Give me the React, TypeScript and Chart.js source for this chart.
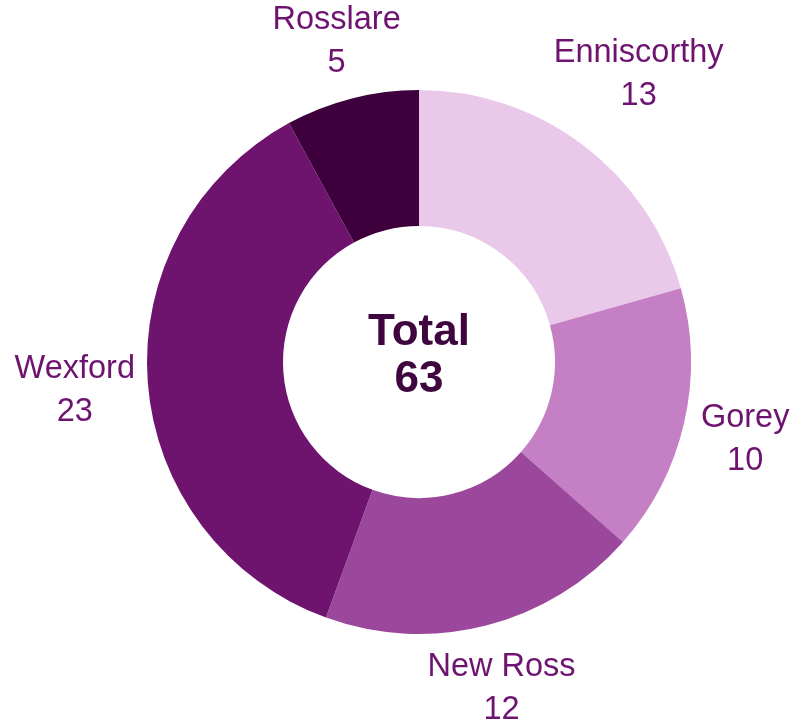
import React, { useEffect, useRef } from "react";
import { Chart, registerables } from "chart.js";

Chart.register(...registerables);

const categories = ["Enniscorthy", "Gorey", "New Ross", "Wexford", "Rosslare"];
const values = [13, 10, 12, 23, 5];
const colors = ["#EAC8EA", "#C47FC5", "#9B479B", "#6E146F", "#3D003D"];
const centerTitle = "Total";

const FONT = "'Liberation Sans', Arial, sans-serif";

function boxDist(cx: number, cy: number, hw: number, hh: number) {
  const nx = Math.max(Math.abs(cx) - hw, 0);
  const ny = Math.max(Math.abs(cy) - hh, 0);
  return Math.sqrt(nx * nx + ny * ny);
}

const labelPlugin = {
  id: "outerLabels",
  afterDraw(chart: any) {
    const ctx = chart.ctx;
    const meta = chart.getDatasetMeta(0);
    ctx.save();
    ctx.fillStyle = "#6E1470";
    ctx.font = "32.5px " + FONT;
    ctx.textAlign = "center";
    ctx.textBaseline = "middle";
    const lineGap = 43;
    const boxH = 80;
    meta.data.forEach((arc: any, i: number) => {
      const mid = (arc.startAngle + arc.endAngle) / 2;
      const dx = Math.cos(mid);
      const dy = Math.sin(mid);
      const w = Math.max(
        ctx.measureText(categories[i]).width,
        ctx.measureText(String(values[i])).width
      );
      const target = arc.outerRadius + 12;
      let lo = 0;
      let hi = arc.outerRadius * 3;
      for (let k = 0; k < 50; k++) {
        const m = (lo + hi) / 2;
        if (boxDist(dx * m, dy * m, w / 2, boxH / 2) < target) lo = m;
        else hi = m;
      }
      const x = arc.x + dx * lo;
      const y = arc.y + dy * lo + 3;
      ctx.fillText(categories[i], x, y - lineGap / 2);
      ctx.fillText(String(values[i]), x, y + lineGap / 2);
    });
    const arc0 = meta.data[0];
    const total = values.reduce((a, b) => a + b, 0);
    ctx.fillStyle = "#3F053F";
    ctx.font = "bold 44px " + FONT;
    ctx.fillText(centerTitle, arc0.x, arc0.y - 29);
    ctx.fillText(String(total), arc0.x, arc0.y + 18);
    ctx.restore();
  },
};

export default function App() {
  const ref = useRef<HTMLCanvasElement | null>(null);
  useEffect(() => {
    document.body.style.margin = "0";
    const chart = new Chart(ref.current as HTMLCanvasElement, {
      type: "doughnut",
      data: {
        labels: categories,
        datasets: [
          {
            data: values,
            backgroundColor: colors,
            borderWidth: 0,
          },
        ],
      },
      options: {
        animation: false,
        responsive: false,
        cutout: "50%",
        layout: { padding: { top: 90, bottom: 86, left: 147, right: 104 } },
        plugins: {
          legend: { display: false },
          tooltip: { enabled: false },
        },
      },
      plugins: [labelPlugin],
    });
    return () => chart.destroy();
  }, []);
  return (
    <div style={{ width: 795, height: 720 }}>
      <canvas ref={ref} width={795} height={720} style={{ display: "block" }} />
    </div>
  );
}
